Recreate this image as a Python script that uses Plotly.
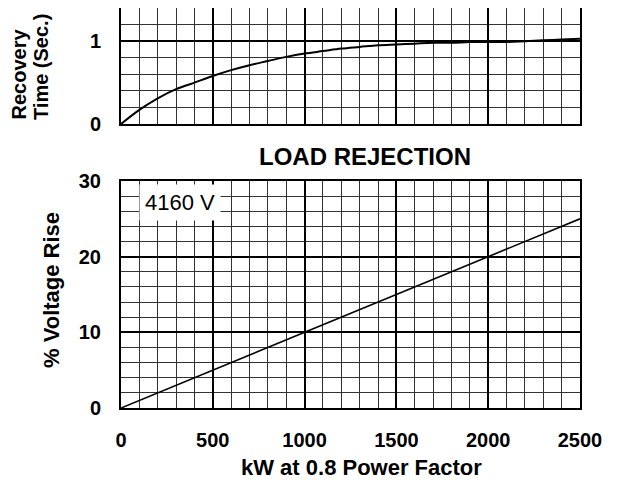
import plotly.graph_objects as go

# ---- data ----
kw = [0, 100, 200, 300, 400, 500, 600, 700, 800, 900, 1000, 1100, 1200, 1300,
      1400, 1500, 1600, 1700, 1800, 1900, 2000, 2100, 2200, 2300, 2400, 2500]
recovery_time = [0.0, 0.17, 0.31, 0.42, 0.50, 0.58, 0.65, 0.71, 0.76, 0.81, 0.85,
                 0.88, 0.91, 0.93, 0.95, 0.96, 0.97, 0.98, 0.98, 0.99, 0.99,
                 0.99, 1.00, 1.01, 1.02, 1.03]
voltage_kw = [0, 2500]
voltage_rise = [0, 25]

top_yticks = [0, 1]
bot_yticks = [0, 10, 20, 30]
x_ticks = [0, 500, 1000, 1500, 2000, 2500]

FONT = "Arial, Liberation Sans, sans-serif"
OFF = 8  # page body margin
W, H = 618 - OFF, 487 - OFF

def px_x(p):
    return min(1.0, max(0.0, (p - OFF) / W))

def px_y(p):
    return min(1.0, max(0.0, 1 - (p - OFF) / H))

fig = go.Figure()
fig.add_trace(go.Scatter(x=kw, y=recovery_time, mode="lines",
                         line=dict(color="black", width=2, shape="spline"),
                         xaxis="x", yaxis="y", showlegend=False, hoverinfo="skip"))
fig.add_trace(go.Scatter(x=voltage_kw, y=voltage_rise, mode="lines",
                         line=dict(color="black", width=1.6),
                         xaxis="x2", yaxis="y2", showlegend=False, hoverinfo="skip"))

grid_major = dict(showgrid=True, gridcolor="black", gridwidth=2)
minor_x = dict(dtick=100, showgrid=True, gridcolor="#333", gridwidth=1, ticks="")
line_style = dict(showline=True, linecolor="black", linewidth=2, mirror=True,
                  zeroline=False, automargin=False)
tickfont = dict(family=FONT, size=20, color="black", weight="bold")

fig.update_layout(
    width=W, height=H,
    margin=dict(l=0, r=0, t=0, b=0),
    paper_bgcolor="white", plot_bgcolor="white",
    font=dict(family=FONT, color="black"),
    xaxis=dict(domain=[px_x(121), px_x(580)], range=[0, 2500], anchor="y",
               tickvals=x_ticks, showticklabels=False, minor=minor_x,
               **grid_major, **line_style),
    yaxis=dict(domain=[px_y(124), px_y(8)], range=[0, 1.4], anchor="x",
               tickvals=top_yticks, tickfont=tickfont, ticklabelstandoff=14,
               minor=dict(dtick=0.2, showgrid=True, gridcolor="#333", gridwidth=1, ticks=""),
               **grid_major, **line_style),
    xaxis2=dict(domain=[px_x(121), px_x(580)], range=[0, 2500], anchor="y2",
                tickvals=x_ticks, tickfont=tickfont, ticklabelstandoff=13,
                minor=minor_x, **grid_major, **line_style),
    yaxis2=dict(domain=[px_y(408), px_y(181)], range=[0, 30], anchor="x2",
                tickvals=bot_yticks, tickfont=tickfont, ticklabelstandoff=14,
                minor=dict(dtick=2, showgrid=True, gridcolor="#333", gridwidth=1, ticks=""),
                **grid_major, **line_style),
)

def ann(text, x, y, size, **kw_):
    d = dict(text=text, x=px_x(x), y=px_y(y), xref="paper", yref="paper",
             xanchor="center", yanchor="middle", showarrow=False,
             font=dict(family=FONT, size=size, color="black"))
    d.update(kw_)
    return d

annotations = [
    ann("<b>Recovery</b>", 19, 122, 20, textangle=-90, yanchor="bottom"),
    ann("<b>Time (Sec.)</b>", 41, 122, 20, textangle=-90, yanchor="bottom"),
    ann("<b>% Voltage Rise</b>", 51, 290, 22, textangle=-90),
    ann("<b>kW at 0.8 Power Factor</b>", 361, 467, 22),
    ann("<b>LOAD REJECTION</b>", 365, 156, 24),
    dict(text="4160 V", x=320, y=27.1, xref="x2", yref="y2", showarrow=False,
         xanchor="center", yanchor="middle", bgcolor="white", borderpad=5,
         font=dict(family=FONT, size=22, color="black")),
]
fig.update_layout(annotations=annotations)

fig.write_html("out.html")
